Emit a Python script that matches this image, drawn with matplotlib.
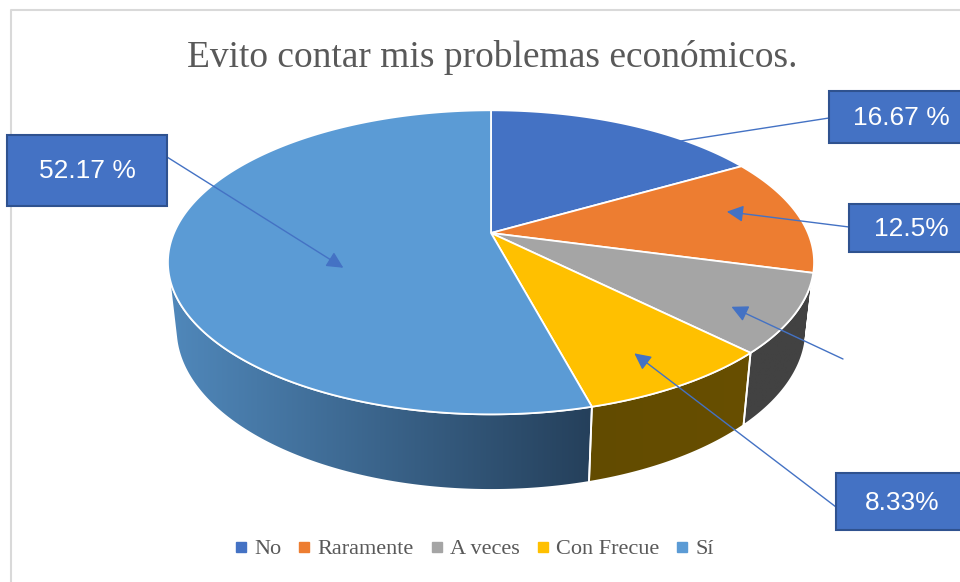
import numpy as np
import matplotlib
matplotlib.use("Agg")
import matplotlib.pyplot as plt
from matplotlib.patches import Polygon, Rectangle
from matplotlib.lines import Line2D
from matplotlib.colors import to_rgb

# ---------------- data ----------------
title = "Evito contar mis problemas económicos."
categories = ["No", "Raramente", "A veces", "Con Frecue", "Sí"]
values = [16.67, 12.5, 8.33, 8.33, 54.17]
label_texts = ["16.67 %", "12.5%", "", "8.33%", "52.17 %"]

top_colors = ["#4472C4", "#ED7D31", "#A5A5A5", "#FFC000", "#5B9BD5"]
wall_colors = [("#2f4f88", "#2f4f88"), ("#a3561f", "#a3561f"),
               ("#424242", "#424242"), ("#624b00", "#684f00"),
               ("#5088bb", "#25405b")]

# ---------------- geometry (pixels) ----------------
W, H = 960, 582
cx, cy = 491.0, 233.0
R = 317.0
elev = np.deg2rad(27.5)
s, c = np.sin(elev), np.cos(elev)
dist = 4.6
thick = 0.239


def proj(phi_deg, r, z):
    p = np.deg2rad(phi_deg)
    x = r * np.sin(p)
    y = r * np.cos(p)
    u = y * s + z * c
    w = y * c - z * s
    f = dist / (dist + w)
    return cx + R * x * f, cy - R * u * f


fig = plt.figure(figsize=(W / 100, H / 100), dpi=100)
ax = fig.add_axes([0, 0, 1, 1])
ax.set_xlim(0, W)
ax.set_ylim(H, 0)
ax.axis("off")

# chart border
ax.plot([10.5, 10.5, 980], [600, 9.5, 9.5], color="#d9d9d9", lw=1.5, zorder=0)

total = float(sum(values))
bounds = np.concatenate([[0.0], np.cumsum(values) / total * 360.0])

# visible wall range
lim = np.rad2deg(np.arccos(-1.0 / (dist * c)))
vis_lo, vis_hi = lim, 360.0 - lim

# walls
for i in range(len(values)):
    a, b = max(bounds[i], vis_lo), min(bounds[i + 1], vis_hi)
    if b <= a:
        continue
    angs = np.linspace(a, b, max(int((b - a) * 3), 3))
    outline = [proj(t_, 1, 0) for t_ in angs] + [proj(t_, 1, -thick) for t_ in angs[::-1]]
    xs = [p[0] for p in outline]
    ys = [p[1] for p in outline]
    x0, x1 = min(xs), max(xs)
    y0, y1 = min(ys), max(ys)
    # horizontal colour gradient clipped to the wall shape
    c0, c1 = np.array(to_rgb(wall_colors[i][0])), np.array(to_rgb(wall_colors[i][1]))
    tt = np.linspace(0, 1, 256)
    grad = (c0[None, :] + (c1 - c0)[None, :] * tt[:, None])[None, :, :]
    face = Polygon(outline, closed=True, facecolor="none", edgecolor="none", zorder=2)
    ax.add_patch(face)
    im = ax.imshow(grad, extent=(x0, x1, y1, y0), aspect="auto", zorder=2,
                   interpolation="bilinear")
    im.set_clip_path(face)
    ax.add_patch(Polygon(outline, closed=True, facecolor="none", edgecolor="white",
                         lw=1.3, zorder=3))

ax.set_xlim(0, W)
ax.set_ylim(H, 0)

# top faces
for i in range(len(values)):
    angs = np.linspace(bounds[i], bounds[i + 1], max(int(bounds[i + 1] - bounds[i]) * 2, 4))
    pts = [proj(0, 0, 0)] + [proj(t_, 1, 0) for t_ in angs]
    ax.add_patch(Polygon(pts, closed=True, facecolor=top_colors[i], edgecolor="white",
                         lw=1.3, joinstyle="round", zorder=4))

# title
ax.text(492, 67, title, ha="center", va="baseline", fontsize=27,
        family="Liberation Serif", color="#595959", zorder=5)

# data labels (layout only)
tip_frac = [0.57, 0.42, 0.62, 0.54, 0.40]
tip_r = [0.75, 0.78, 0.83, 0.81, 0.50]
boxes = [(829, 91, 144, 52), (849, 204, 124, 48), None, (836, 473, 132, 57), (7, 135, 160, 71)]
line_start = [(829, 118), (849, 227), (843, 359), (836, 507), (167, 157)]
lab_color = "#4472C4"

for i in range(len(values)):
    ang = bounds[i] + tip_frac[i] * (bounds[i + 1] - bounds[i])
    tip = proj(ang, tip_r[i], 0)
    ax.annotate("", xy=tip, xytext=line_start[i],
                arrowprops=dict(arrowstyle="-|>,head_length=0.5,head_width=0.25",
                                color=lab_color, lw=1.0, mutation_scale=20,
                                shrinkA=0, shrinkB=0), zorder=6)
    if boxes[i] is not None:
        bx, by, bw, bh = boxes[i]
        ax.add_patch(Rectangle((bx, by), bw, bh, facecolor=lab_color,
                               edgecolor="#2F528F", lw=1.5, zorder=7))
        ax.text(bx + bw / 2, by + bh / 2 + 1, label_texts[i], ha="center", va="center",
                fontsize=19, family="Liberation Sans", color="white", zorder=8)

# legend
handles = [Line2D([], [], marker="s", linestyle="none", markersize=6.5,
                  markerfacecolor=col, markeredgecolor=col) for col in top_colors]
leg = ax.legend(handles, categories, loc="center", bbox_to_anchor=(474.5, 549),
                bbox_transform=ax.transData, ncol=5, frameon=False,
                prop={"family": "Liberation Serif", "size": 16},
                labelcolor="#595959", handlelength=0.5, handletextpad=0.35,
                columnspacing=0.78, borderpad=0, borderaxespad=0)

fig.savefig("out.png", dpi=100)
